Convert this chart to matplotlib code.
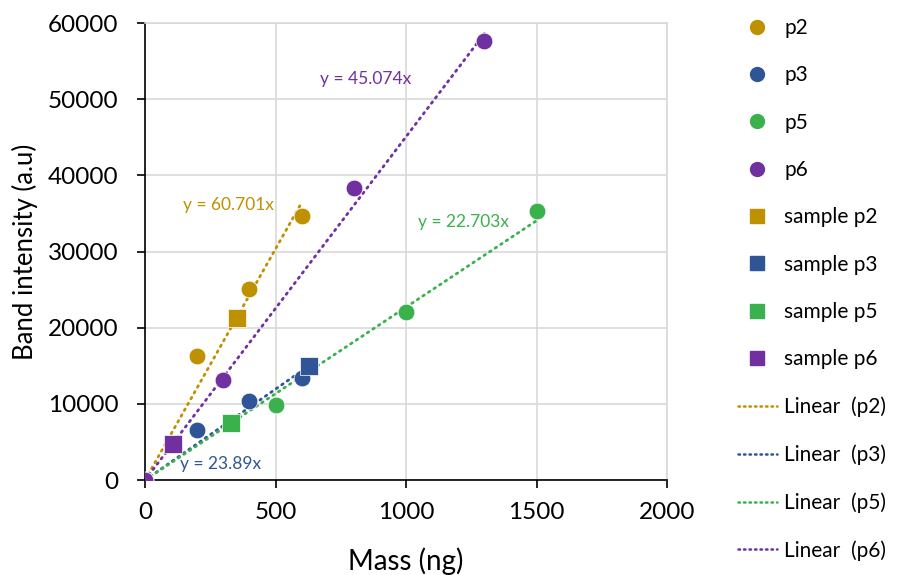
import matplotlib
matplotlib.use("Agg")
import matplotlib.pyplot as plt
from matplotlib.lines import Line2D

# ---- data ----
series = ["p2", "p3", "p5", "p6"]
colors = {"p2": "#BF9000", "p3": "#2F5597", "p5": "#3BB14E", "p6": "#7030A0"}

p2_x = [0, 200, 400, 600]
p2_y = [0, 16300, 25100, 34700]
p3_x = [0, 200, 400, 600]
p3_y = [0, 6600, 10400, 13400]
p5_x = [0, 500, 1000, 1500]
p5_y = [0, 9800, 22100, 35300]
p6_x = [0, 300, 800, 1300]
p6_y = [0, 13100, 38300, 57600]

sample_x = {"p2": 352, "p3": 628, "p5": 330, "p6": 107}
sample_y = {"p2": 21300, "p3": 15000, "p5": 7500, "p6": 4700}

slopes = {"p2": 60.701, "p3": 23.89, "p5": 22.703, "p6": 45.074}
eq_labels = {"p2": "y = 60.701x", "p3": "y = 23.89x", "p5": "y = 22.703x", "p6": "y = 45.074x"}
eq_pos = {"p2": (318, 36100), "p3": (291, 2100), "p5": (1222, 33900), "p6": (847, 52600)}

xs = {"p2": p2_x, "p3": p3_x, "p5": p5_x, "p6": p6_x}
ys = {"p2": p2_y, "p3": p3_y, "p5": p5_y, "p6": p6_y}

x_ticks = [0, 500, 1000, 1500, 2000]
y_ticks = [0, 10000, 20000, 30000, 40000, 50000, 60000]

plt.rcParams['font.family'] = ['Lato', 'DejaVu Sans']

fig = plt.figure(figsize=(8.98, 5.75), dpi=100)
ax = fig.add_axes([0.1615, 0.165, 0.5813, 0.795])

dot = (0, (0.6, 1.8))
# trend lines
for s in series:
    xmax = max(xs[s])
    ax.plot([0, xmax], [0, slopes[s] * xmax], color=colors[s], lw=2.0,
            linestyle=dot, dash_capstyle='round', zorder=2)

# circles
for s in series:
    ax.plot(xs[s], ys[s], 'o', color=colors[s], ms=12, mec='white', mew=0.5, zorder=4)
# squares
for s in series:
    ax.plot([sample_x[s]], [sample_y[s]], 's', color=colors[s], ms=13, mec='white', mew=0.5, zorder=5)

for s in series:
    ax.text(eq_pos[s][0], eq_pos[s][1], eq_labels[s], color=colors[s], fontsize=12.5,
            ha='center', va='center', zorder=6)

ax.set_xlim(0, 2000)
ax.set_ylim(0, 60000)
ax.set_xticks(x_ticks)
ax.set_yticks(y_ticks)
ax.set_xticklabels([str(v) for v in x_ticks])
ax.set_yticklabels([str(v) for v in y_ticks])
ax.grid(True, color='#D9D9D9', lw=1.2)
ax.set_axisbelow(True)
for side in ['top', 'right']:
    ax.spines[side].set_color('#D9D9D9')
    ax.spines[side].set_linewidth(1.2)
for side in ['left', 'bottom']:
    ax.spines[side].set_color('black')
    ax.spines[side].set_linewidth(1.2)
ax.tick_params(axis='both', direction='out', length=6, width=1.2, color='black',
               labelsize=17.5)
ax.tick_params(axis='y', pad=13)
ax.tick_params(axis='x', pad=10)
ax.set_xlabel("Mass (ng)", fontsize=20, labelpad=17)
ax.set_ylabel("Band intensity (a.u)", fontsize=18.5, labelpad=7)

handles = []
labels = []
for s in series:
    handles.append(Line2D([], [], marker='o', ls='none', color=colors[s], ms=10))
    labels.append(s)
for s in series:
    handles.append(Line2D([], [], marker='s', ls='none', color=colors[s], ms=10))
    labels.append("sample " + s)
for s in series:
    handles.append(Line2D([], [], ls=(0, (0.6, 1.6)), lw=1.8, color=colors[s], dash_capstyle='round'))
    labels.append("Linear  (" + s + ")")

leg = fig.legend(handles, labels, loc='upper left', bbox_to_anchor=(0.812, 0.983),
                 frameon=False, fontsize=15, labelspacing=1.31, handlelength=1.9,
                 handletextpad=0.35, borderaxespad=0)

fig.savefig("out.png", dpi=100)
